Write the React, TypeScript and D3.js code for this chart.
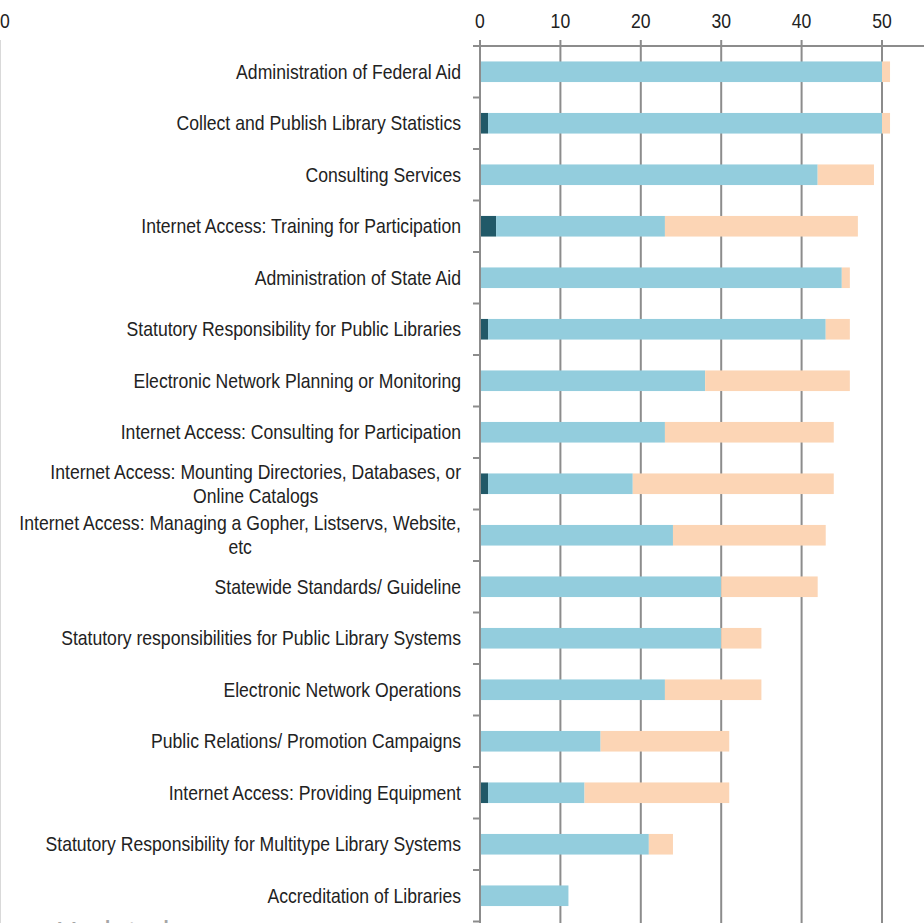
import * as d3 from "d3";
import { useRef, useEffect } from "react";

const categories = [
  "Administration of Federal Aid",
  "Collect and Publish Library Statistics",
  "Consulting Services",
  "Internet Access: Training for Participation",
  "Administration of State Aid",
  "Statutory Responsibility for Public Libraries",
  "Electronic Network Planning or Monitoring",
  "Internet Access: Consulting for Participation",
  "Internet Access: Mounting Directories, Databases, or|Online Catalogs",
  "Internet Access: Managing a Gopher, Listservs, Website,|etc",
  "Statewide Standards/ Guideline",
  "Statutory responsibilities for Public Library Systems",
  "Electronic Network Operations",
  "Public Relations/ Promotion Campaigns",
  "Internet Access: Providing Equipment",
  "Statutory Responsibility for Multitype Library Systems",
  "Accreditation of Libraries",
];

const darkValues = [0, 1, 0, 2, 0, 1, 0, 0, 1, 0, 0, 0, 0, 0, 1, 0, 0];
const blueValues = [50, 49, 42, 21, 45, 42, 28, 23, 18, 24, 30, 30, 23, 15, 12, 21, 11];
const peachValues = [1, 1, 7, 24, 1, 3, 18, 21, 25, 19, 12, 5, 12, 16, 18, 3, 0];

const ticks = [0, 10, 20, 30, 40, 50];
const seriesKeys = ["dark", "blue", "peach"];
const colors = ["#215968", "#93CDDD", "#FCD5B5"];

const W = 924;
const H = 923;
const FONT = "'Liberation Sans', Arial, sans-serif";
// no narrow face installed, so squeeze the regular one
const SQUEEZE = 0.88;

function narrowText(
  parent: d3.Selection<any, unknown, null, undefined>,
  x: number,
  y: number,
  anchor: string,
  text: string
) {
  return parent
    .append("text")
    .attr("transform", `translate(${x},${y}) scale(${SQUEEZE},1)`)
    .attr("dy", "0.35em")
    .attr("text-anchor", anchor)
    .text(text);
}

function draw(svgEl: SVGSVGElement | null) {
  if (!svgEl) return;
  const svg = d3.select(svgEl);
  svg.selectAll("*").remove();

  const x = d3.scaleLinear().domain([0, 50]).range([480, 882]);
  const y = d3
    .scaleBand<number>()
    .domain(d3.range(categories.length))
    .range([46, 46 + 51.5 * categories.length])
    .paddingInner(0.6)
    .paddingOuter(0.3);

  const rows = categories.map((c, i) => ({
    dark: darkValues[i],
    blue: blueValues[i],
    peach: peachValues[i],
    i,
  }));
  const stacked = d3.stack<any>().keys(seriesKeys)(rows);

  const txt = svg.append("g")
    .attr("font-family", FONT).attr("font-size", 20).attr("fill", "#222");

  // cropped neighbour chart at the left edge
  svg.append("line")
    .attr("x1", 0.5).attr("x2", 0.5).attr("y1", 40).attr("y2", H)
    .attr("stroke", "#d9d9d9").attr("stroke-width", 1);
  narrowText(txt, 0, 21, "start", "0");
  svg.append("text")
    .attr("x", 56).attr("y", 942)
    .attr("font-family", FONT)
    .attr("font-size", 30).attr("fill", "#a6a6a6")
    .text("Updated");

  // gridlines
  svg.append("g")
    .selectAll("line")
    .data(ticks.slice(1))
    .join("line")
    .attr("x1", (d) => x(d)).attr("x2", (d) => x(d))
    .attr("y1", 40).attr("y2", H)
    .attr("stroke", "#8c8c8c").attr("stroke-width", 2);

  // bars
  svg.append("g")
    .selectAll("g")
    .data(stacked)
    .join("g")
    .attr("fill", (_, k) => colors[k])
    .selectAll("rect")
    .data((s) => s)
    .join("rect")
    .attr("x", (d) => x(d[0]))
    .attr("y", (d: any) => y(d.data.i)!)
    .attr("width", (d) => Math.max(0, x(d[1]) - x(d[0])))
    .attr("height", y.bandwidth());

  // top axis
  svg.append("line")
    .attr("x1", 474).attr("x2", W).attr("y1", 46).attr("y2", 46)
    .attr("stroke", "#8c8c8c").attr("stroke-width", 2);
  svg.append("line")
    .attr("x1", x(0)).attr("x2", x(0)).attr("y1", 40).attr("y2", H)
    .attr("stroke", "#8c8c8c").attr("stroke-width", 2);
  ticks.forEach((t) => narrowText(txt, x(t), 21, "middle", String(t)));

  // left axis ticks at category boundaries
  const step = y.step();
  svg.append("g")
    .selectAll("line")
    .data(d3.range(categories.length + 1))
    .join("line")
    .attr("x1", 473).attr("x2", 480)
    .attr("y1", (d) => 46 + d * step).attr("y2", (d) => 46 + d * step)
    .attr("stroke", "#8c8c8c").attr("stroke-width", 2);

  // category labels
  categories.forEach((c, i) => {
    const lines = c.split("|");
    const cy = y(i)! + y.bandwidth() / 2;
    if (lines.length === 1) {
      narrowText(txt, 461, cy, "end", c);
    } else {
      const t1 = narrowText(txt, 461, cy - 12, "end", lines[0]);
      const w = (t1.node() as SVGTextElement).getComputedTextLength() * SQUEEZE;
      narrowText(txt, 461 - w / 2, cy + 12, "middle", lines[1]);
    }
  });
}

const App = () => {
  const ref = useRef<SVGSVGElement | null>(null);
  useEffect(() => {
    draw(ref.current);
  }, []);
  return (
    <svg
      ref={ref}
      width={W}
      height={H}
      style={{ position: "absolute", top: 0, left: 0, background: "#fff" }}
    />
  );
};

export default App;
